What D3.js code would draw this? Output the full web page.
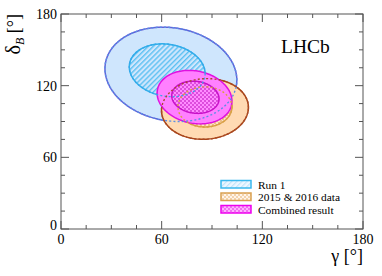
<!DOCTYPE html>
<html><head><meta charset="utf-8">
<script src="https://cdn.jsdelivr.net/npm/d3@7"></script>
<style>
html,body{margin:0;padding:0;background:#fff;}
svg{display:block;}
</style></head>
<body>
<svg id="chart" width="382" height="276" font-family="'Liberation Serif', Tinos, 'Times New Roman', 'DejaVu Serif', serif"></svg>
<script>
// ---- data (degrees) ----
const contourNames = ["run1_2s","run1_1s","y1516_2s","y1516_1s","comb_2s","comb_1s"];
const centerGamma  = [65.5, 63.3, 85.8, 85.8, 79.6, 80.1];
const centerDelta  = [129.5, 132.9, 100.5, 102.2, 110.4, 110.3];
const sigmaGamma   = [39.3, 22.6, 25.9, 16.1, 22.3, 14.1];
const sigmaDelta   = [39.5, 22.1, 25.4, 16.8, 22.4, 13.5];
const rho          = [-0.12, -0.13, 0.05, 0.0, -0.15, -0.10];
const legendLabels = ["Run 1", "2015 & 2016 data", "Combined result"];
const xTicks = [0, 60, 120, 180];
const yTicks = [0, 60, 120, 180];
const minorStep = 15;

// ---- layout ----
const svg = d3.select("#chart");
const x = d3.scaleLinear().domain([0,180]).range([61,363]);
const y = d3.scaleLinear().domain([0,180]).range([229,14]);

const defs = svg.append("defs");
const ph = defs.append("pattern").attr("id","hatch").attr("patternUnits","userSpaceOnUse")
  .attr("width",3.6).attr("height",3.6).attr("patternTransform","rotate(45)");
ph.append("rect").attr("width",3.6).attr("height",3.6).attr("fill","#cfe6fd");
ph.append("rect").attr("x",0).attr("width",1.4).attr("height",3.6).attr("fill","#5cc0f2");
const phl = defs.append("pattern").attr("id","hatchLeg").attr("patternUnits","userSpaceOnUse")
  .attr("width",3.6).attr("height",3.6).attr("patternTransform","rotate(45)");
phl.append("rect").attr("width",3.6).attr("height",3.6).attr("fill","#eef7ff");
phl.append("rect").attr("x",0).attr("width",1.2).attr("height",3.6).attr("fill","#bfe4fa");
function checker(id, base, dark){
  const p = defs.append("pattern").attr("id",id).attr("patternUnits","userSpaceOnUse")
    .attr("width",4).attr("height",4);
  p.append("rect").attr("width",4).attr("height",4).attr("fill",base);
  p.append("rect").attr("width",2).attr("height",2).attr("fill",dark);
  p.append("rect").attr("x",2).attr("y",2).attr("width",2).attr("height",2).attr("fill",dark);
}
checker("chkOrange","#fde2c4","#eebc86");
checker("chkMag","#ff8cff","#dd4ddd");
checker("chkOrangeLeg","#fff4e8","#f3d3ad");
checker("chkMagLeg","#ffb0ff","#f070f0");

function ellipsePts(i){
  const pts = [];
  const n = 160, s = Math.sqrt(1 - rho[i]*rho[i]);
  for (let k=0;k<n;k++){
    const t = 2*Math.PI*k/n;
    pts.push([x(centerGamma[i] + sigmaGamma[i]*Math.cos(t)),
              y(centerDelta[i] + sigmaDelta[i]*(rho[i]*Math.cos(t) + s*Math.sin(t)))]);
  }
  return pts;
}
const line = d3.line().curve(d3.curveLinearClosed);

const styles = [
  {fill:"#cfe6fd", stroke:"#6262d8", dot:"#5a8ee6"},
  {fill:"url(#hatch)", stroke:"#2fb2ea", dot:"#3aa6ea"},
  {fill:"#ffdab3", stroke:"#aa4412", dot:"#a84a2a"},
  {fill:"url(#chkOrange)", stroke:"#d8a04e", dot:"#d9a040"},
  {fill:"#ff80ff", stroke:"#e010e0", dot:null},
  {fill:"url(#chkMag)", stroke:"#c810c8", dot:null}
];

const g = svg.append("g");
contourNames.forEach((name,i)=>{
  g.append("path").attr("d", line(ellipsePts(i)))
    .attr("fill", styles[i].fill).attr("stroke", styles[i].stroke).attr("stroke-width",1.5);
});
[0,1,2,3].forEach(i=>{
  g.append("path").attr("d", line(ellipsePts(i)))
    .attr("fill","none").attr("stroke", styles[i].dot).attr("stroke-width",1.4)
    .attr("stroke-dasharray","2,2.2");
});

// ---- frame & ticks ----
const axisColor = "#555";
const [x0,x1] = x.range(); const [y0,y1] = y.range();
svg.append("rect").attr("x",x0).attr("y",y1).attr("width",x1-x0).attr("height",y0-y1)
  .attr("fill","none").attr("stroke",axisColor).attr("stroke-width",1);
const minors = d3.range(0,180+0.001,minorStep);
const tk = svg.append("g").attr("stroke",axisColor).attr("stroke-width",1);
minors.forEach(v=>{
  const major = xTicks.includes(v);
  const L = major ? 8 : 4;
  tk.append("line").attr("x1",x(v)).attr("x2",x(v)).attr("y1",y0).attr("y2",y0-L);
  tk.append("line").attr("x1",x(v)).attr("x2",x(v)).attr("y1",y1).attr("y2",y1+L);
  const majY = yTicks.includes(v);
  const Ly = majY ? 8 : 4;
  tk.append("line").attr("y1",y(v)).attr("y2",y(v)).attr("x1",x0).attr("x2",x0+Ly);
  tk.append("line").attr("y1",y(v)).attr("y2",y(v)).attr("x1",x1).attr("x2",x1-Ly);
});
xTicks.forEach(v=>{
  svg.append("text").attr("x",x(v)).attr("y",y0+15).attr("text-anchor","middle")
    .attr("font-size",14).text(v);
});
yTicks.forEach(v=>{
  svg.append("text").attr("x",x0-4).attr("y",y(v)+ (v===0 ? 1 : 5)).attr("text-anchor","end")
    .attr("font-size",14).text(v);
});

svg.append("text").attr("x",x1).attr("y",262).attr("text-anchor","end")
  .attr("font-size",18).text("γ [°]");
const yt = svg.append("text").attr("transform",`translate(20,${y1}) rotate(-90)`)
  .attr("text-anchor","end").attr("font-size",18);
yt.append("tspan").attr("font-size",20).text("δ");
yt.append("tspan").attr("font-size",12).attr("font-style","italic").attr("dy",4).text("B");
yt.append("tspan").attr("dy",-4).text(" [°]");

svg.append("text").attr("x",281).attr("y",53).attr("font-size",19.5).text("LHCb");

const legFill = ["url(#hatchLeg)","url(#chkOrangeLeg)","url(#chkMagLeg)"];
const legStroke = ["#3ab8ee","#d9a050","#ee00ee"];
legendLabels.forEach((lab,i)=>{
  const yy = 180.5 + i*12.5;
  svg.append("rect").attr("x",221).attr("y",yy).attr("width",30).attr("height",7.5)
    .attr("fill",legFill[i]).attr("stroke",legStroke[i]).attr("stroke-width",1.5);
  svg.append("text").attr("x",258).attr("y",yy+8).attr("font-size",11.4).text(lab);
});
</script>
</body></html>
